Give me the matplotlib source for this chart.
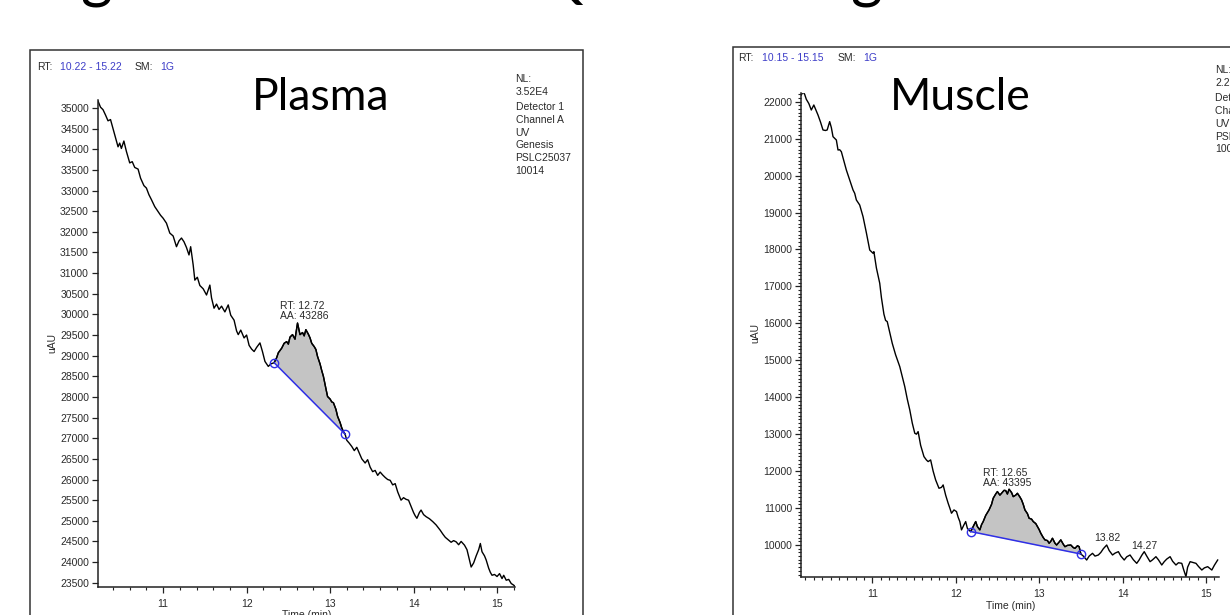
import matplotlib
matplotlib.use("Agg")
import matplotlib.pyplot as plt
from matplotlib.patches import Rectangle
from matplotlib.ticker import MultipleLocator

# ---- data ----
plasma_t = [10.22, 10.25, 10.28, 10.31, 10.34, 10.37, 10.40, 10.43, 10.46, 10.48,
            10.50, 10.53, 10.56, 10.60, 10.63, 10.66, 10.70, 10.73, 10.77, 10.80,
            10.83, 10.86, 10.90, 10.93, 10.97, 11.00, 11.04, 11.08, 11.12, 11.16,
            11.19, 11.22, 11.25, 11.28, 11.31, 11.33, 11.36, 11.38, 11.41, 11.44,
            11.48, 11.52, 11.56, 11.58, 11.61, 11.64, 11.67, 11.70, 11.74, 11.78,
            11.81, 11.85, 11.88, 11.90, 11.93, 11.97, 12.00, 12.03, 12.06, 12.09,
            12.12, 12.16, 12.19, 12.22, 12.26, 12.29, 12.33, 12.36, 12.38, 12.42,
            12.45, 12.48, 12.50, 12.52, 12.55, 12.58, 12.61, 12.64, 12.67, 12.69,
            12.71, 12.74, 12.76, 12.78, 12.81, 12.83, 12.85, 12.88, 12.90, 12.92,
            12.95, 12.97, 13.00, 13.02, 13.04, 13.07, 13.09, 13.12, 13.14, 13.16,
            13.18, 13.20, 13.23, 13.26, 13.29, 13.32, 13.35, 13.38, 13.42, 13.45,
            13.48, 13.51, 13.54, 13.57, 13.60, 13.63, 13.66, 13.69, 13.72, 13.75,
            13.78, 13.81, 13.85, 13.88, 13.91, 13.94, 13.97, 14.00, 14.02, 14.04,
            14.07, 14.09, 14.12, 14.15, 14.19, 14.23, 14.27, 14.30, 14.32, 14.35,
            14.38, 14.42, 14.45, 14.48, 14.51, 14.54, 14.57, 14.61, 14.64, 14.67,
            14.69, 14.72, 14.75, 14.78, 14.80, 14.82, 14.85, 14.87, 14.90, 14.92,
            14.94, 14.97, 15.00, 15.03, 15.06, 15.08, 15.11, 15.14, 15.17, 15.20,
            15.22]
plasma_v = [35170, 35020, 34960, 34830, 34690, 34720, 34500, 34280, 34060, 34150,
            34020, 34200, 33950, 33670, 33700, 33560, 33520, 33300, 33120, 33060,
            32900, 32780, 32610, 32520, 32400, 32330, 32210, 31970, 31900, 31640,
            31780, 31850, 31760, 31620, 31440, 31640, 31200, 30830, 30900, 30700,
            30620, 30470, 30710, 30400, 30150, 30250, 30120, 30200, 30060, 30230,
            29980, 29860, 29600, 29510, 29620, 29430, 29500, 29250, 29160, 29100,
            29200, 29310, 29100, 28860, 28740, 28800, 28830, 28950, 29070, 29180,
            29300, 29340, 29280, 29450, 29510, 29400, 29790, 29510, 29560, 29480,
            29630, 29520, 29430, 29300, 29220, 29150, 28980, 28800, 28640, 28500,
            28200, 28010, 27950, 27880, 27860, 27700, 27530, 27380, 27250, 27160,
            27100, 26950, 26880, 26800, 26700, 26780, 26640, 26500, 26400, 26480,
            26300, 26190, 26220, 26100, 26180, 26110, 26050, 26000, 25980, 25870,
            25900, 25700, 25500, 25560, 25520, 25500, 25350, 25200, 25120, 25060,
            25200, 25260, 25150, 25100, 25050, 24980, 24900, 24820, 24770, 24680,
            24600, 24530, 24480, 24520, 24490, 24420, 24500, 24410, 24300, 24050,
            23880, 23980, 24150, 24300, 24450, 24250, 24150, 24050, 23850, 23750,
            23680, 23700, 23650, 23720, 23600, 23680, 23560, 23580, 23480, 23440,
            23400]
plasma_peak = (12.33, 28830, 13.18, 27100)   # start t, start v, end t, end v
plasma_rt, plasma_aa = "12.72", "43286"

muscle_t = [10.15, 10.17, 10.19, 10.21, 10.24, 10.27, 10.30, 10.32, 10.35, 10.38,
            10.41, 10.44, 10.46, 10.49, 10.51, 10.53, 10.57, 10.59, 10.61, 10.63,
            10.66, 10.69, 10.73, 10.77, 10.79, 10.81, 10.85, 10.89, 10.93, 10.97,
            11.01, 11.02, 11.05, 11.09, 11.11, 11.14, 11.16, 11.18, 11.21, 11.24,
            11.28, 11.33, 11.36, 11.39, 11.42, 11.45, 11.48, 11.51, 11.53, 11.55,
            11.58, 11.62, 11.65, 11.67, 11.70, 11.73, 11.76, 11.80, 11.83, 11.85,
            11.88, 11.91, 11.93, 11.95, 11.98, 12.01, 12.03, 12.05, 12.07, 12.10,
            12.12, 12.14, 12.16, 12.18, 12.21, 12.24, 12.26, 12.29, 12.31, 12.33,
            12.36, 12.40, 12.43, 12.45, 12.48, 12.50, 12.53, 12.55, 12.58, 12.60,
            12.62, 12.64, 12.67, 12.69, 12.72, 12.74, 12.77, 12.79, 12.81, 12.83,
            12.86, 12.88, 12.91, 12.93, 12.96, 12.98, 13.00, 13.02, 13.05, 13.07,
            13.10, 13.12, 13.14, 13.16, 13.19, 13.21, 13.24, 13.26, 13.29, 13.31,
            13.34, 13.38, 13.41, 13.43, 13.46, 13.48, 13.50, 13.53, 13.57, 13.60,
            13.64, 13.67, 13.71, 13.74, 13.77, 13.81, 13.84, 13.88, 13.91, 13.95,
            13.98, 14.02, 14.05, 14.09, 14.13, 14.17, 14.20, 14.23, 14.26, 14.29,
            14.33, 14.36, 14.40, 14.43, 14.47, 14.50, 14.53, 14.57, 14.60, 14.64,
            14.67, 14.71, 14.73, 14.76, 14.78, 14.81, 14.84, 14.88, 14.91, 14.95,
            14.98, 15.02, 15.05, 15.07, 15.10, 15.14]
muscle_v = [22180, 22270, 22200, 22065, 21950, 21775, 21910, 21800, 21640, 21450,
            21234, 21220, 21234, 21460, 21300, 21053, 20963, 20692, 20700, 20646,
            20400, 20150, 19880, 19610, 19520, 19339, 19203, 18887, 18450, 17985,
            17896, 17940, 17500, 17085, 16700, 16250, 16080, 16047, 15750, 15460,
            15150, 14829, 14560, 14288, 13950, 13657, 13300, 13025, 13000, 13070,
            12700, 12393, 12300, 12258, 12303, 12000, 11762, 11536, 11560, 11626,
            11350, 11130, 11000, 10860, 10950, 10905, 10750, 10634, 10409, 10550,
            10634, 10454, 10400, 10364, 10500, 10634, 10500, 10409, 10550, 10634,
            10800, 10950, 11100, 11266, 11380, 11446, 11350, 11400, 11480, 11473,
            11380, 11510, 11420, 11310, 11350, 11400, 11300, 11220, 11100, 10950,
            10850, 10725, 10700, 10634, 10580, 10500, 10420, 10319, 10200, 10139,
            10120, 10048, 10100, 10183, 10050, 10000, 10080, 10139, 10020, 9955,
            9990, 10000, 9930, 9910, 9980, 9955, 9757, 9700, 9594, 9700,
            9775, 9700, 9730, 9800, 9900, 10000, 9850, 9730, 9780, 9820,
            9700, 9594, 9680, 9730, 9600, 9504, 9600, 9720, 9820, 9700,
            9549, 9600, 9684, 9600, 9459, 9550, 9620, 9684, 9560, 9459,
            9520, 9504, 9350, 9143, 9400, 9549, 9530, 9504, 9420, 9323,
            9380, 9414, 9360, 9323, 9450, 9594]
muscle_peak = (12.18, 10364, 13.50, 9757)
muscle_rt, muscle_aa = "12.65", "43395"

plasma_info = ["NL:", "3.52E4", "Detector 1", "Channel A", "UV", "Genesis", "PSLC25037", "10014"]
muscle_info = ["NL:", "2.23E4", "Detector 1", "Channel A", "UV", "PSLC25037", "10014"]

W, H = 1230, 615
fig = plt.figure(figsize=(W / 100, H / 100), dpi=100)
fig.patch.set_facecolor("white")

SANS = ["Liberation Sans", "DejaVu Sans"]
TXT = "#2a2a2a"
BLUE = "#3d3dc8"


def fx(x):
    return x / W


def fy(y):
    return 1 - y / H


def px_axes(x0, y_top, x1, y_bot):
    return fig.add_axes([fx(x0), fy(y_bot), (x1 - x0) / W, (y_bot - y_top) / H])


# slide title, cut off at the top edge (only descenders show)
for ch, x in [("g", 80), ("Q", 534), ("g", 850)]:
    fig.text(fx(x), fy(-4), ch, fontsize=44, family=["Lato", "DejaVu Sans"],
             va="baseline", ha="left", color="black")

# frames around the two pasted screenshots
fig.add_artist(Rectangle((fx(30), -0.2), (583 - 30) / W, fy(50) + 0.2,
                         transform=fig.transFigure, fill=False,
                         edgecolor="#333333", linewidth=1.1, clip_on=False))
fig.add_artist(Rectangle((fx(733), -0.2), 0.5, fy(47) + 0.2,
                         transform=fig.transFigure, fill=False,
                         edgecolor="#333333", linewidth=1.1, clip_on=False))


def header(x_parts, y, rng):
    parts = [("RT:", TXT), (rng, BLUE), ("SM:", TXT), ("1G", BLUE)]
    for (txt, col), x in zip(parts, x_parts):
        fig.text(fx(x), fy(y), txt, color=col, fontsize=7.5, family=SANS, va="center")


def info(x, y0, lines, step=12.9):
    for i, line in enumerate(lines):
        extra = 2 if i >= 2 else 0
        fig.text(fx(x), fy(y0 + i * step + extra), line, color=TXT, fontsize=7.5,
                 family=SANS, va="center", ha="left")


def chromatogram(ax, t, v, peak, rt, aa, xlim, ylim, xminor, yminor, label_xy):
    ax.plot(t, v, color="black", linewidth=1.0)
    t0, v0, t1, v1 = peak
    seg_t = [tt for tt in t if t0 <= tt <= t1]
    seg_v = [vv for tt, vv in zip(t, v) if t0 <= tt <= t1]
    base = [v0 + (v1 - v0) * (tt - t0) / (t1 - t0) for tt in seg_t]
    ax.fill_between(seg_t, base, seg_v, color="#c4c4c4", linewidth=0)
    ax.plot(seg_t, seg_v, color="black", linewidth=1.0)
    ax.plot([t0, t1], [v0, v1], color="#2f2fe6", linewidth=1.1)
    ax.plot([t0, t1], [v0, v1], "o", mfc="none", mec="#2f2fe6", ms=6, mew=1.0)
    ax.text(label_xy[0], label_xy[1], f"RT: {rt}\nAA: {aa}", fontsize=7.5, family=SANS,
            color=TXT, ha="left", va="bottom", linespacing=1.05)
    ax.set_xlim(*xlim)
    ax.set_ylim(*ylim)
    ax.xaxis.set_major_locator(MultipleLocator(1))
    ax.xaxis.set_minor_locator(MultipleLocator(xminor))
    if yminor:
        ax.yaxis.set_minor_locator(MultipleLocator(yminor))
    for s in ("top", "right"):
        ax.spines[s].set_visible(False)
    for s in ("left", "bottom"):
        ax.spines[s].set_linewidth(1.1)
        ax.spines[s].set_color("#222222")
    ax.tick_params(which="major", length=4.5, width=0.9, color="#222222",
                   labelsize=7.5, labelcolor=TXT, pad=2)
    ax.tick_params(which="minor", length=2.5, width=0.8, color="#222222")
    ax.tick_params(axis="x", which="major", pad=4)
    for lab in ax.get_xticklabels() + ax.get_yticklabels():
        lab.set_family(SANS)
    ax.set_facecolor("none")


# Plasma panel
ax1 = px_axes(98, 100, 515.4, 587)
chromatogram(ax1, plasma_t, plasma_v, plasma_peak, plasma_rt, plasma_aa,
             (10.22, 15.22), (23396, 35194), 0.2, None, (12.40, 29840))
ax1.yaxis.set_major_locator(MultipleLocator(500))
header([37, 60, 135, 160], 67, "10.22 - 15.22")
info(515.5, 79, plasma_info)
fig.text(fx(321), fy(98), "Plasma", fontsize=32, family=["Lato", "DejaVu Sans"],
         ha="center", va="center", color="black")
fig.text(fx(52), fy(343), "uAU", rotation=90, fontsize=7.5, family=SANS, color=TXT,
         ha="center", va="center")
fig.text(fx(307), fy(615), "Time (min)", fontsize=7.5, family=SANS, color=TXT,
         ha="center", va="center")

# Muscle panel
ax2 = px_axes(801.3, 93, 1218.5, 577.3)
chromatogram(ax2, muscle_t, muscle_v, muscle_peak, muscle_rt, muscle_aa,
             (10.15, 15.15), (9126, 22235), 0.1, 100, (12.33, 11540))
ax2.yaxis.set_major_locator(MultipleLocator(1000))
ax2.text(13.66, 10054, "13.82", fontsize=7.5, family=SANS, color=TXT, ha="left", va="bottom")
ax2.text(14.10, 9838, "14.27", fontsize=7.5, family=SANS, color=TXT, ha="left", va="bottom")
header([738.4, 762, 837.7, 862.8], 58, "10.15 - 15.15")
info(1215, 70, muscle_info)
fig.text(fx(960), fy(98), "Muscle", fontsize=32, family=["Lato", "DejaVu Sans"],
         ha="center", va="center", color="black")
fig.text(fx(755), fy(333), "uAU", rotation=90, fontsize=7.5, family=SANS, color=TXT,
         ha="center", va="center")
fig.text(fx(1010.6), fy(606), "Time (min)", fontsize=7.5, family=SANS, color=TXT,
         ha="center", va="center")

fig.savefig("out.png", dpi=100)
